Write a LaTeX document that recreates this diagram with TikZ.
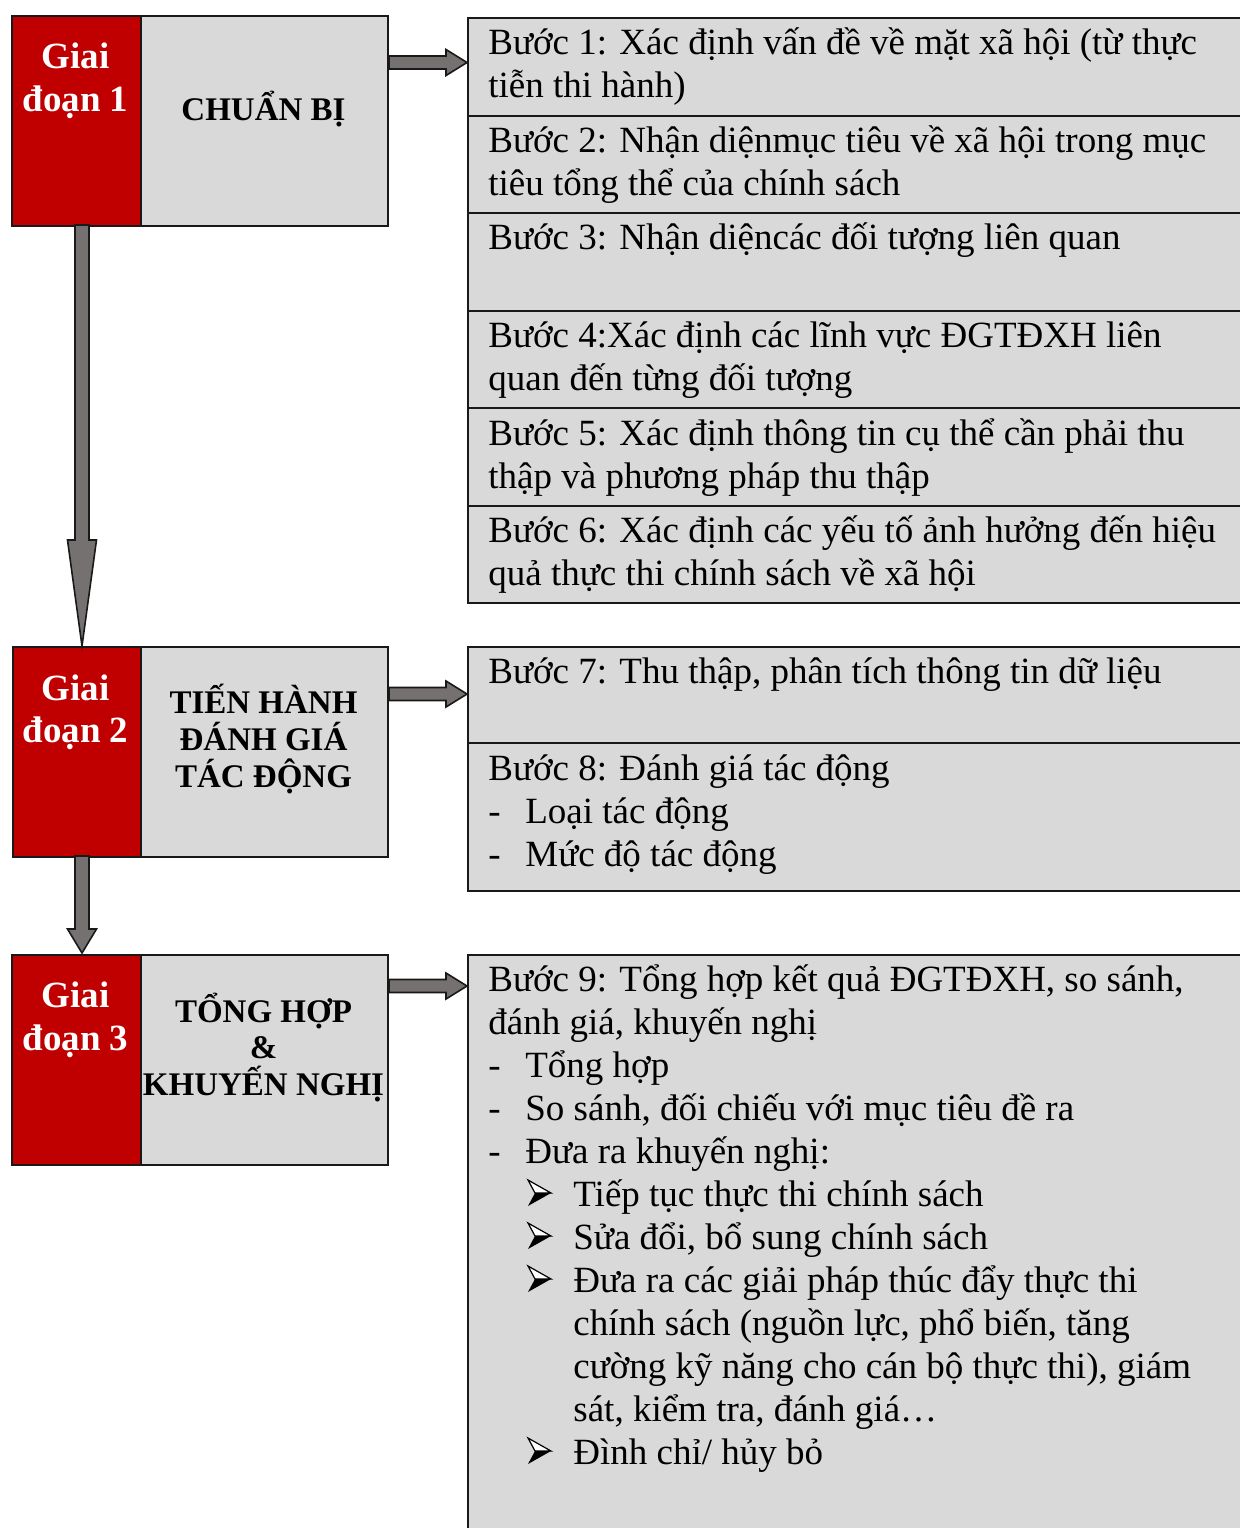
\documentclass[tikz,border=0pt]{standalone}
\usepackage{fontspec}
\setmainfont{Liberation Serif}
\usetikzlibrary{calc}
\definecolor{stagered}{HTML}{C00000}
\definecolor{boxgrey}{HTML}{D9D9D9}
\definecolor{arrowgrey}{HTML}{767171}
\tikzset{
  framed/.style={draw=black!90, line width=1pt, anchor=north west, inner sep=0pt},
  redbox/.style={framed, fill=stagered, minimum width=64.5pt, minimum height=105pt},
  namebox/.style={framed, fill=boxgrey, minimum width=123.5pt, minimum height=105pt},
  stepbox/.style={framed, fill=boxgrey, minimum width=392pt},
  stagetext/.style={anchor=base, inner sep=0pt, text=white, font=\fontsize{18.5pt}{21.5pt}\selectfont\bfseries},
  nametext/.style={anchor=base, inner sep=0pt, font=\fontsize{16.5pt}{18.5pt}\selectfont\bfseries},
  body/.style={anchor=base west, inner sep=0pt, font=\fontsize{18.5pt}{21.5pt}\selectfont},
  fatarrow/.style={draw=black!90, line width=0.8pt, fill=arrowgrey, line join=miter},
  % three-dimensional arrowhead bullet, origin at its top left corner
  arrowhead bullet/.pic={
    \draw[line width=0.6pt, fill=white, line join=miter] (0,0) -- (23,13) -- (7,13) -- cycle;
    \fill[black] (7,13) -- (23,13) -- (0,26) -- cycle;
  },
}
% horizontal block arrow: #1 start, #2 tip
\newcommand\blockright[2]{%
  \draw[fatarrow] ($(#1)+(0,-6.5)$) -- ($(#2)+(-21,-6.5)$) -- ($(#2)+(-21,-13)$) -- (#2)
    -- ($(#2)+(-21,13)$) -- ($(#2)+(-21,6.5)$) -- ($(#1)+(0,6.5)$) -- cycle;}
% vertical block arrow: #1 start, #2 tip, #3 head length
\newcommand\blockdown[3]{%
  \draw[fatarrow] ($(#1)+(-7,0)$) -- ($(#2)+(-7,-#3)$) -- ($(#2)+(-14.5,-#3)$) -- (#2)
    -- ($(#2)+(14.5,-#3)$) -- ($(#2)+(7,-#3)$) -- ($(#1)+(7,0)$) -- cycle;}
\begin{document}
\begin{tikzpicture}[x=0.5pt, y=-0.5pt]
  \clip (0,0) rectangle (1240,1528);
  \fill[white] (0,0) rectangle (1240,1528);

  % ---------- stage 1 ----------
  \node[redbox] (r1) at (11,15) {};
  \node[namebox] (n1) at (140,15) {};
  \node[stagetext] (r1a) at (75.5,68) {Giai};
  \node[stagetext] (r1b) at (75.5,111) {đoạn 1};
  \node[nametext] (n1a) at (263.5,120) {CHUẨN BỊ};

  \node[stepbox, minimum height=48.75pt] (b1) at (467,17) {};
  \node[stepbox, minimum height=48.75pt] (b2) at (467,114.5) {};
  \node[stepbox, minimum height=48.75pt] (b3) at (467,212) {};
  \node[stepbox, minimum height=48.75pt] (b4) at (467,309.5) {};
  \node[stepbox, minimum height=48.75pt] (b5) at (467,407) {};
  \node[stepbox, minimum height=48.75pt] (b6) at (467,504.5) {};

  \node[body] (b1a) at (488,54) {Bước 1: Xác định vấn đề về mặt xã hội (từ thực};
  \node[body] (b1b) at (488,97) {tiễn thi hành)};
  \node[body] (b2a) at (488,152) {Bước 2: Nhận diệnmục tiêu về xã hội trong mục};
  \node[body] (b2b) at (488,195) {tiêu tổng thể của chính sách};
  \node[body] (b3a) at (488,249) {Bước 3: Nhận diệncác đối tượng liên quan};
  \node[body] (b4a) at (488,347) {Bước 4:Xác định các lĩnh vực ĐGTĐXH liên};
  \node[body] (b4b) at (488,390) {quan đến từng đối tượng};
  \node[body] (b5a) at (488,445) {Bước 5: Xác định thông tin cụ thể cần phải thu};
  \node[body] (b5b) at (488,488) {thập và phương pháp thu thập};
  \node[body] (b6a) at (488,542) {Bước 6: Xác định các yếu tố ảnh hưởng đến hiệu};
  \node[body] (b6b) at (488,585) {quả thực thi chính sách về xã hội};

  % ---------- stage 2 ----------
  \node[redbox] (r2) at (12,646) {};
  \node[namebox] (n2) at (140,646) {};
  \node[stagetext] (r2a) at (75.5,700) {Giai};
  \node[stagetext] (r2b) at (75.5,742) {đoạn 2};
  \node[nametext] (n2a) at (263.5,713) {TIẾN HÀNH};
  \node[nametext] (n2b) at (263.5,750) {ĐÁNH GIÁ};
  \node[nametext] (n2c) at (263.5,787) {TÁC ĐỘNG};

  \node[stepbox, minimum height=48pt] (b7) at (467,646) {};
  \node[stepbox, minimum height=74pt] (b8) at (467,742) {};
  \node[body] (b7a) at (488,683) {Bước 7: Thu thập, phân tích thông tin dữ liệu};
  \node[body] (b8a) at (488,780) {Bước 8: Đánh giá tác động};
  \node[body] (b8b) at (488,823) {\makebox[18.5pt][l]{-}Loại tác động};
  \node[body] (b8c) at (488,866) {\makebox[18.5pt][l]{-}Mức độ tác động};

  % ---------- stage 3 ----------
  \node[redbox] (r3) at (11,954) {};
  \node[namebox] (n3) at (140,954) {};
  \node[stagetext] (r3a) at (75.5,1007) {Giai};
  \node[stagetext] (r3b) at (75.5,1050) {đoạn 3};
  \node[nametext] (n3a) at (263.5,1022) {TỔNG HỢP};
  \node[nametext] (n3b) at (263.5,1058) {\&};
  \node[nametext] (n3c) at (263.5,1095) {KHUYẾN NGHỊ};

  \node[stepbox, minimum height=300pt] (b9) at (467,954) {};
  \node[body] (b9a) at (488,991) {Bước 9: Tổng hợp kết quả ĐGTĐXH, so sánh,};
  \node[body] (b9b) at (488,1034) {đánh giá, khuyến nghị};
  \node[body] (b9c) at (488,1077) {\makebox[18.5pt][l]{-}Tổng hợp};
  \node[body] (b9d) at (488,1120) {\makebox[18.5pt][l]{-}So sánh, đối chiếu với mục tiêu đề ra};
  \node[body] (b9e) at (488,1163) {\makebox[18.5pt][l]{-}Đưa ra khuyến nghị:};
  \node[body] (b9f) at (573,1206) {Tiếp tục thực thi chính sách};
  \node[body] (b9g) at (573,1249) {Sửa đổi, bổ sung chính sách};
  \node[body] (b9h) at (573,1292) {Đưa ra các giải pháp thúc đẩy thực thi};
  \node[body] (b9i) at (573,1335) {chính sách (nguồn lực, phổ biến, tăng};
  \node[body] (b9j) at (573,1378) {cường kỹ năng cho cán bộ thực thi), giám};
  \node[body] (b9k) at (573,1421) {sát, kiểm tra, đánh giá…};
  \node[body] (b9l) at (573,1464) {Đình chỉ/ hủy bỏ};
  \pic at (528,1180) {arrowhead bullet};
  \pic at (528,1223) {arrowhead bullet};
  \pic at (528,1266) {arrowhead bullet};
  \pic at (528,1438) {arrowhead bullet};

  % ---------- block arrows ----------
  \coordinate (h1s) at (n1.east |- 0,62.5);  \coordinate (h1t) at (b1.west |- 0,62.5);
  \coordinate (h2s) at (n2.east |- 0,694);   \coordinate (h2t) at (b7.west |- 0,694);
  \coordinate (h3s) at (n3.east |- 0,986);   \coordinate (h3t) at (b9.west |- 0,986);
  \blockright{h1s}{h1t}
  \blockright{h2s}{h2t}
  \blockright{h3s}{h3t}

  \coordinate (v1s) at (82,225); \coordinate (v1t) at (82,646);
  \coordinate (v2s) at (82,856); \coordinate (v2t) at (82,953);
  \blockdown{v1s}{v1t}{106}
  \blockdown{v2s}{v2t}{24}
\end{tikzpicture}
\end{document}
